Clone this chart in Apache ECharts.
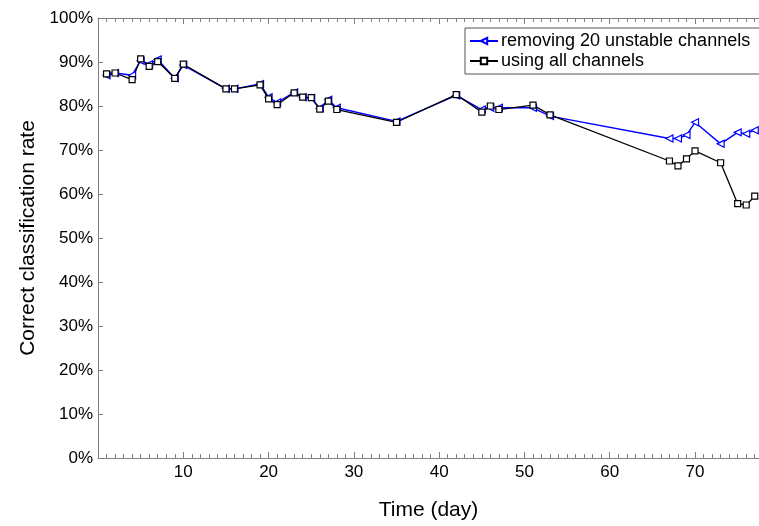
<!DOCTYPE html>
<html>
<head>
<meta charset="utf-8">
<script src="https://cdn.jsdelivr.net/npm/echarts@6/dist/echarts.min.js"></script>
<style>
  html, body { margin: 0; padding: 0; background: #fff; }
  #chart { width: 759px; height: 526px; }
</style>
</head>
<body>
<div id="chart"></div>
<script>
var days = [1, 2, 4, 5, 6, 7, 9, 10, 15, 16, 19, 20, 21, 23, 24, 25, 26, 27, 28,
            35, 42, 45, 46, 47, 51, 53, 67, 68, 69, 70, 73, 75, 76, 77];
var removingRate = [87.0, 87.5, 87.0, 90.3, 89.5, 90.6, 86.3, 89.3, 83.9, 83.9, 85.0, 82.0, 80.8, 83.1, 82.0, 81.8, 79.5, 81.4, 79.6,
                    76.5, 82.4, 79.2, 79.6, 79.6, 79.6, 77.7, 72.6, 72.6, 73.4, 76.3, 71.4, 74.0, 73.7, 74.5];
var allRate = [87.3, 87.5, 86.0, 90.7, 89.0, 90.1, 86.3, 89.5, 83.9, 83.9, 84.8, 81.6, 80.3, 83.0, 82.0, 81.9, 79.3, 81.1, 79.2,
               76.3, 82.6, 78.6, 80.0, 79.2, 80.2, 78.0, 67.5, 66.4, 68.0, 69.8, 67.1, 57.8, 57.5, 59.5];
var seriesNames = ['removing 20 unstable channels', 'using all channels'];

function pairs(vals) {
  return days.map(function (d, i) { return [d, vals[i]]; });
}

var font = 'Liberation Sans, Arial, Helvetica, sans-serif';
var axisGrey = '#808080';

var chart = echarts.init(document.getElementById('chart'));
chart.setOption({
  animation: false,
  textStyle: { fontFamily: font },
  grid: { left: 98, top: 18, width: 670, height: 442 },
  legend: {
    left: 465, top: 28,
    orient: 'vertical',
    backgroundColor: '#fff',
    borderColor: '#555', borderWidth: 1,
    padding: [4, 20, 4, 4],
    itemGap: 2,
    itemWidth: 28, itemHeight: 8,
    textStyle: { fontSize: 18, color: '#000', fontFamily: font, padding: [0, 0, 0, -2] },
    data: seriesNames
  },
  xAxis: [{
    type: 'value', min: 0, max: 77.5, interval: 10,
    name: 'Time (day)', nameLocation: 'middle', nameGap: 42,
    nameTextStyle: { fontSize: 21, color: '#000' },
    axisLine: { lineStyle: { color: axisGrey } },
    axisTick: { inside: true, length: 6, lineStyle: { color: axisGrey } },
    minorTick: { show: true, splitNumber: 10, length: 4, lineStyle: { color: axisGrey } },
    axisLabel: { fontSize: 17, color: '#000', margin: 6, showMinLabel: false, showMaxLabel: false },
    splitLine: { show: false }
  }, {
    type: 'value', position: 'top', min: 0, max: 77.5, interval: 10,
    axisLine: { lineStyle: { color: axisGrey } },
    axisTick: { inside: true, length: 6, lineStyle: { color: axisGrey } },
    minorTick: { show: true, splitNumber: 10, length: 4, lineStyle: { color: axisGrey } },
    axisLabel: { show: false },
    splitLine: { show: false }
  }],
  yAxis: {
    type: 'value', min: 0, max: 100, interval: 10,
    name: 'Correct classification rate', nameLocation: 'middle', nameGap: 59,
    nameTextStyle: { fontSize: 21, color: '#000' },
    axisLine: { show: true, lineStyle: { color: axisGrey } },
    axisTick: { show: true, inside: true, length: 5, lineStyle: { color: axisGrey } },
    axisLabel: { fontSize: 17, color: '#000', margin: 5, formatter: '{value}%' },
    splitLine: { show: false }
  },
  series: [{
    name: seriesNames[0],
    type: 'line',
    data: pairs(removingRate),
    symbol: 'triangle', symbolRotate: 90, symbolSize: 7,
    lineStyle: { color: '#0000ff', width: 1.4 },
    itemStyle: { color: '#fff', borderColor: '#0000ff', borderWidth: 1.2 },
    clip: true
  }, {
    name: seriesNames[1],
    type: 'line',
    data: pairs(allRate),
    symbol: 'rect', symbolSize: 6,
    lineStyle: { color: '#000', width: 1.3 },
    itemStyle: { color: '#fff', borderColor: '#000', borderWidth: 1.2 },
    clip: true
  }]
});
</script>
</body>
</html>
